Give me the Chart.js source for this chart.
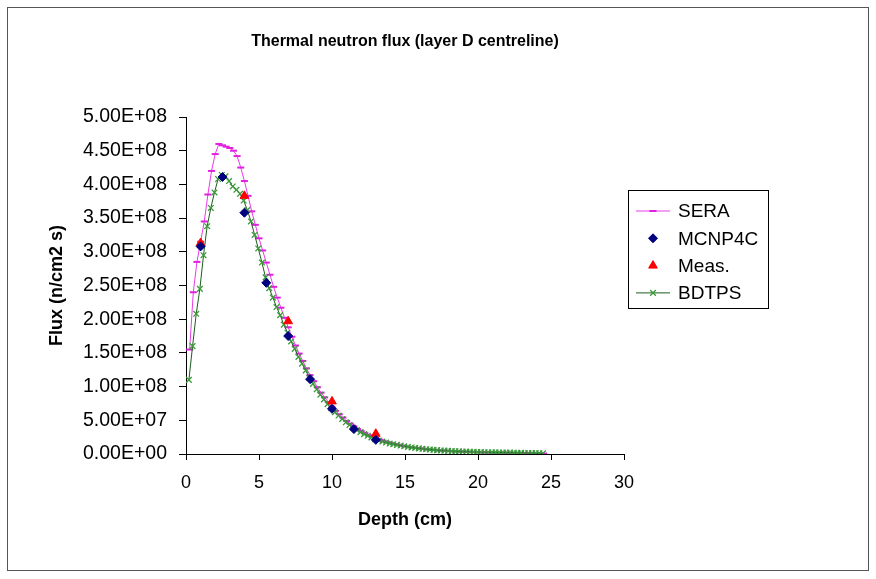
<!DOCTYPE html>
<html>
<head>
<meta charset="utf-8">
<script src="https://cdn.jsdelivr.net/npm/chart.js@4.4.0/dist/chart.umd.min.js"></script>
<style>
  html, body { margin: 0; padding: 0; background: #fff; }
  #wrap { position: relative; width: 876px; height: 579px; }
</style>
</head>
<body>
<div id="wrap"><canvas id="fluxChart"></canvas></div>
<script>
// values, flux in units of 1e8 n/cm2 s
const FLUX_UNIT = 1e8;

const seraDepth = [
  0.25, 0.5, 0.75, 1, 1.25, 1.5, 1.75, 2, 2.25, 2.5, 2.75, 3, 3.25, 3.5, 3.75, 4,
  4.25, 4.5, 4.75, 5, 5.25, 5.5, 5.75, 6, 6.25, 6.5, 6.75, 7, 7.25, 7.5, 7.75, 8,
  8.25, 8.5, 8.75, 9, 9.25, 9.5, 9.75, 10, 10.25, 10.5, 10.75, 11, 11.25, 11.5, 11.75, 12,
  12.25, 12.5, 12.75, 13, 13.25, 13.5, 13.75, 14, 14.25, 14.5, 14.75, 15, 15.25, 15.5, 15.75, 16,
  16.25, 16.5, 16.75, 17, 17.25, 17.5, 17.75, 18, 18.25, 18.5, 18.75, 19, 19.25, 19.5, 19.75, 20,
  20.25, 20.5, 20.75, 21, 21.25, 21.5, 21.75, 22, 22.25, 22.5, 22.75, 23, 23.25, 23.5, 23.75, 24,
  24.25, 24.5
];
const seraFlux = [
  1.55, 2.40, 2.85, 3.15, 3.45, 3.85, 4.20, 4.45, 4.60, 4.58, 4.56, 4.54, 4.50, 4.42, 4.25, 4.05,
  3.83, 3.60, 3.40, 3.20, 3.02, 2.84, 2.66, 2.48, 2.32, 2.17, 2.02, 1.88, 1.74, 1.61, 1.49, 1.38,
  1.27, 1.17, 1.08, 0.99, 0.91, 0.84, 0.77, 0.70, 0.64, 0.59, 0.54, 0.49, 0.45, 0.41, 0.37, 0.34,
  0.31, 0.28, 0.26, 0.235, 0.215, 0.195, 0.178, 0.162, 0.148, 0.136, 0.125, 0.115, 0.105, 0.097, 0.089, 0.082,
  0.075, 0.069, 0.064, 0.059, 0.054, 0.05, 0.046, 0.043, 0.04, 0.037, 0.035, 0.033, 0.031, 0.029, 0.027, 0.026,
  0.025, 0.024, 0.023, 0.022, 0.021, 0.02, 0.019, 0.018, 0.017, 0.016, 0.015, 0.014, 0.013, 0.012, 0.011, 0.010,
  0.009, 0.008
];

const mcnpDepth = [1, 2.5, 4, 5.5, 7, 8.5, 10, 11.5, 13];
const mcnpFlux = [3.08, 4.11, 3.58, 2.54, 1.75, 1.11, 0.67, 0.37, 0.21];

const measDepth = [1, 4, 7, 10, 13];
const measFlux = [3.13, 3.83, 1.97, 0.78, 0.30];

const bdtpsDepth = [
  0.2, 0.45, 0.7, 0.95, 1.2, 1.45, 1.7, 1.95, 2.2, 2.45, 2.7, 2.95, 3.2, 3.45, 3.7, 3.95,
  4.2, 4.45, 4.7, 4.95, 5.2, 5.45, 5.7, 5.95, 6.2, 6.45, 6.7, 6.95, 7.2, 7.45, 7.7, 7.95,
  8.2, 8.45, 8.7, 8.95, 9.2, 9.45, 9.7, 9.95, 10.2, 10.45, 10.7, 10.95, 11.2, 11.45, 11.7, 11.95,
  12.2, 12.45, 12.7, 12.95, 13.2, 13.45, 13.7, 13.95, 14.2, 14.45, 14.7, 14.95, 15.2, 15.45, 15.7, 15.95,
  16.2, 16.45, 16.7, 16.95, 17.2, 17.45, 17.7, 17.95, 18.2, 18.45, 18.7, 18.95, 19.2, 19.45, 19.7, 19.95,
  20.2, 20.45, 20.7, 20.95, 21.2, 21.45, 21.7, 21.95, 22.2, 22.45, 22.7, 22.95, 23.2, 23.45, 23.7, 23.95,
  24.2, 24.45
];
const bdtpsFlux = [
  1.10, 1.60, 2.08, 2.45, 2.95, 3.38, 3.65, 3.88, 4.08, 4.14, 4.12, 4.05, 3.97, 3.92, 3.86, 3.76,
  3.62, 3.45, 3.25, 3.05, 2.84, 2.62, 2.46, 2.32, 2.18, 2.06, 1.92, 1.80, 1.67, 1.56, 1.44, 1.34,
  1.24, 1.13, 1.04, 0.96, 0.88, 0.81, 0.74, 0.68, 0.62, 0.57, 0.52, 0.47, 0.43, 0.39, 0.355, 0.325,
  0.295, 0.27, 0.245, 0.22, 0.20, 0.185, 0.17, 0.155, 0.145, 0.135, 0.125, 0.115, 0.105, 0.097, 0.09, 0.083,
  0.077, 0.071, 0.066, 0.061, 0.057, 0.053, 0.05, 0.047, 0.044, 0.041, 0.039, 0.037, 0.035, 0.033, 0.031, 0.029,
  0.028, 0.027, 0.026, 0.025, 0.024, 0.023, 0.022, 0.021, 0.020, 0.019, 0.018, 0.017, 0.016, 0.015, 0.014, 0.013,
  0.012, 0.011
];

const depthMin = 0, depthMax = 30, depthStep = 5;
const fluxMin = 0, fluxMax = 5e8, fluxStep = 5e7;

const FONT = '"Liberation Sans", Arial, sans-serif';

function toPoints(xs, ys) {
  return xs.map(function (x, i) { return { x: x, y: ys[i] * FLUX_UNIT }; });
}

// 5.00E+08 style, like the spreadsheet
function sciLabel(v) {
  const parts = Number(v).toExponential(2).split('e');
  const exp = parseInt(parts[1], 10);
  const sign = exp < 0 ? '-' : '+';
  return parts[0] + 'E' + sign + String(Math.abs(exp)).padStart(2, '0');
}

// grey frame round the whole chart
const frame = {
  id: 'frame',
  beforeDraw(chart) {
    const ctx = chart.ctx;
    ctx.save();
    ctx.fillStyle = '#fff';
    ctx.fillRect(0, 0, chart.width, chart.height);
    ctx.strokeStyle = '#555';
    ctx.lineWidth = 1;
    ctx.strokeRect(7.5, 7.5, 861, 563);
    ctx.restore();
  }
};

// boxed legend to the right of the plot
const legendBox = {
  id: 'legendBox',
  afterDraw(chart) {
    const ctx = chart.ctx;
    ctx.save();
    ctx.strokeStyle = '#000';
    ctx.lineWidth = 1;
    ctx.strokeRect(628.5, 190.5, 140, 118);
    ctx.font = '19px ' + FONT;
    ctx.textBaseline = 'middle';
    ctx.textAlign = 'left';
    chart.data.datasets.forEach(function (ds, i) {
      const y = 211 + i * 27.3;
      if (ds.showLine !== false) {
        ctx.strokeStyle = ds.borderColor;
        ctx.lineWidth = ds.borderWidth;
        ctx.beginPath();
        ctx.moveTo(636, y);
        ctx.lineTo(670, y);
        ctx.stroke();
      }
      ctx.fillStyle = ds.pointBackgroundColor;
      ctx.strokeStyle = ds.pointBorderColor;
      ctx.lineWidth = ds.pointBorderWidth;
      Chart.helpers.drawPoint(ctx, {
        pointStyle: ds.pointStyle,
        radius: ds.pointRadius,
        borderWidth: ds.pointBorderWidth,
        rotation: 0
      }, 653, y);
      ctx.fillStyle = '#000';
      ctx.fillText(ds.label, 678, y + 1);
    });
    ctx.restore();
  }
};

new Chart(document.getElementById('fluxChart'), {
  type: 'scatter',
  data: {
    datasets: [
      {
        label: 'SERA',
        data: toPoints(seraDepth, seraFlux),
        showLine: true,
        borderColor: '#e83ce8',
        borderWidth: 1,
        pointStyle: 'line',
        pointRadius: 3.5,
        pointBorderWidth: 2,
        pointBorderColor: '#e020e0',
        pointBackgroundColor: '#e020e0',
        order: 3
      },
      {
        label: 'MCNP4C',
        data: toPoints(mcnpDepth, mcnpFlux),
        showLine: false,
        borderColor: '#000080',
        borderWidth: 1,
        pointStyle: 'rectRot',
        pointRadius: 4.5,
        pointBorderWidth: 1,
        pointBorderColor: '#000080',
        pointBackgroundColor: '#000080',
        order: 0
      },
      {
        label: 'Meas.',
        data: toPoints(measDepth, measFlux),
        showLine: false,
        borderColor: '#ff0000',
        borderWidth: 1,
        pointStyle: 'triangle',
        pointRadius: 5,
        pointBorderWidth: 1,
        pointBorderColor: '#ff0000',
        pointBackgroundColor: '#ff0000',
        order: 1
      },
      {
        label: 'BDTPS',
        data: toPoints(bdtpsDepth, bdtpsFlux),
        showLine: true,
        borderColor: '#1a5e1a',
        borderWidth: 1,
        pointStyle: 'crossRot',
        pointRadius: 4,
        pointBorderWidth: 1.3,
        pointBorderColor: '#3a9a3a',
        pointBackgroundColor: '#3a9a3a',
        order: 2
      }
    ]
  },
  options: {
    responsive: true,
    maintainAspectRatio: false,
    animation: false,
    events: [],
    layout: { padding: { left: 0, top: 0, right: 252, bottom: 0 } },
    plugins: {
      legend: { display: false },
      tooltip: { enabled: false },
      title: {
        display: true,
        fullSize: false,
        text: 'Thermal neutron flux (layer D centreline)',
        color: '#000',
        font: { family: FONT, size: 16, weight: 'bold' },
        padding: { top: 32, bottom: 65.8 }
      }
    },
    scales: {
      x: {
        type: 'linear',
        min: depthMin,
        max: depthMax,
        afterFit: function (s) { s.height = 125; },
        ticks: {
          stepSize: depthStep,
          color: '#000',
          padding: 12,
          maxRotation: 0,
          font: { family: FONT, size: 18 }
        },
        grid: { drawOnChartArea: false, color: '#000', tickLength: 6 },
        border: { color: '#000', width: 1 },
        title: {
          display: true,
          text: 'Depth (cm)',
          color: '#000',
          font: { family: FONT, size: 18, weight: 'bold' },
          padding: { top: 0, bottom: 48 }
        }
      },
      y: {
        type: 'linear',
        min: fluxMin,
        max: fluxMax,
        afterFit: function (s) { s.width = 186; },
        ticks: {
          stepSize: fluxStep,
          color: '#000',
          padding: 12,
          font: { family: FONT, size: 19.5 },
          callback: function (v) { return sciLabel(v); }
        },
        grid: { drawOnChartArea: false, color: '#000', tickLength: 7 },
        border: { color: '#000', width: 1 },
        title: {
          display: true,
          text: 'Flux (n/cm2 s)',
          color: '#000',
          font: { family: FONT, size: 18, weight: 'bold' },
          padding: { top: 46, bottom: 0 }
        }
      }
    }
  },
  plugins: [frame, legendBox]
});
</script>
</body>
</html>
